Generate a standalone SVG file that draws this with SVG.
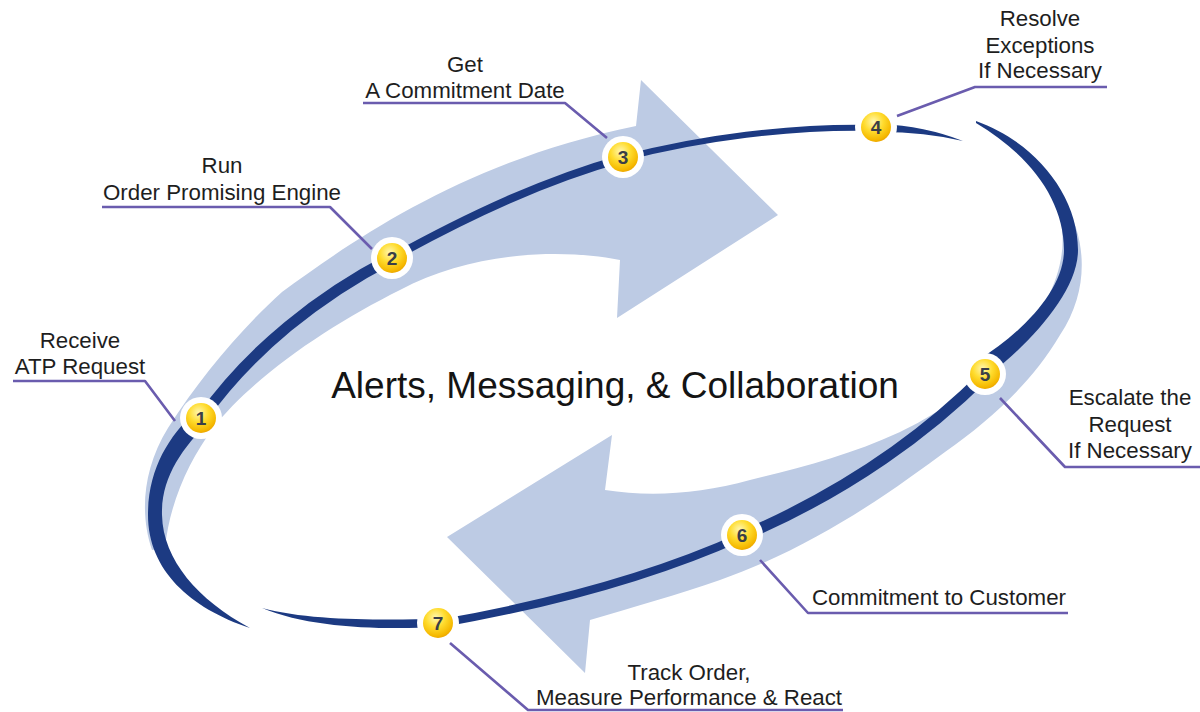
<svg xmlns="http://www.w3.org/2000/svg" width="1200" height="712" viewBox="0 0 1200 712">
<defs>
<radialGradient id="yel" cx="0.42" cy="0.32" r="0.72">
<stop offset="0" stop-color="#fff7b0"/>
<stop offset="0.45" stop-color="#ffdc2e"/>
<stop offset="0.85" stop-color="#f5b800"/>
<stop offset="1" stop-color="#e9a000"/>
</radialGradient>
<style>
.band{fill:#bdcbe4}
.dark{fill:#1c3a82}
.dl{fill:none;stroke:#1c3a82;stroke-linecap:butt}
.lead{fill:none;stroke:#6a5cae;stroke-width:2.6;stroke-linejoin:round}
.lbl{font-family:"Liberation Sans",Arial,sans-serif;font-size:22.3px;fill:#1e1e1e;text-anchor:middle}
.num{font-family:"Liberation Sans",Arial,sans-serif;font-size:19px;font-weight:bold;fill:#3a3e48;text-anchor:middle}
.ring{fill:#ffffff}
.ball{fill:url(#yel)}
</style>
</defs>
<rect width="1200" height="712" fill="#ffffff"/>

<g id="arrows">
<path class="band" d="M 152,550 C 140,515 142,470 168,428 C 200,378 240,330 282,292 C 360,235 470,160 636,126 L 641,80 L 778,215 L 617,318 L 620,260 C 560,248 470,252 400,290 C 330,325 255,375 213,428 C 190,460 170,500 165,548 Z"/>
<path class="band" d="M 1066,205 C 1086,240 1090,290 1060,335 C 1030,385 990,420 945,452 C 900,485 820,545 720,580 C 680,594 630,608 590,620 L 585,673 L 447,537 L 612,435 L 605,490 C 650,497 700,494 750,480 C 800,468 850,455 900,432 C 935,415 955,400 975,385 C 1030,340 1068,280 1062,230 Z"/>
</g>

<g id="connectors">
<path class="dark" d="M 250,628 C 190,608 148,570 148,515 C 148,470 168,437 195,412 L 209,422 C 182,448 161,478 162,515 C 163,560 198,600 250,628 Z"/>
<path class="dl" stroke-width="11" d="M 202,418 C 250,350 320,295 392,258"/>
<path class="dl" stroke-width="8" d="M 392,258 C 470,215 545,180 624,158"/>
<path class="dl" stroke-width="6" d="M 624,158 C 700,138 790,126 876,128"/>
<path class="dark" d="M 880,124 Q 925,126 963,141 Q 925,132 880,132 Z"/>
<path class="dark" d="M 976,121 C 1035,142 1078,195 1078,250 C 1078,290 1035,338 993,372 L 978,360 C 1022,333 1064,290 1064,250 C 1064,200 1030,155 976,123 Z"/>
<path class="dl" stroke-width="11" d="M 985,375 C 930,430 850,490 743,536"/>
<path class="dl" stroke-width="8" d="M 743,536 C 650,578 540,606 437,624"/>
<path class="dark" d="M 440,627 C 380,630 310,628 262,608 C 310,621 380,620 440,619 Z"/>

<polyline class="lead" points="13,381 145,381 175,421"/>
<polyline class="lead" points="102,207 330,207 372,249"/>
<polyline class="lead" points="363,103 565,103 607,138"/>
<polyline class="lead" points="897,116 975,87 1107,87"/>
<polyline class="lead" points="1000,398 1065,467 1200,467"/>
<polyline class="lead" points="760,560 808,613 1068,613"/>
<polyline class="lead" points="450,643 528,710 843,710"/>
</g>

<g id="node1"><circle class="ring" cx="201" cy="418" r="21"/><circle class="ball" cx="201" cy="418" r="15"/><text class="num" x="201" y="425">1</text>
<text class="lbl" x="80" y="348">Receive</text><text class="lbl" x="80" y="374">ATP Request</text></g>
<g id="node2"><circle class="ring" cx="392" cy="258" r="21"/><circle class="ball" cx="392" cy="258" r="15"/><text class="num" x="392" y="265">2</text>
<text class="lbl" x="222" y="173">Run</text><text class="lbl" x="222" y="200">Order Promising Engine</text></g>
<g id="node3"><circle class="ring" cx="623" cy="157" r="21"/><circle class="ball" cx="623" cy="157" r="15"/><text class="num" x="623" y="164">3</text>
<text class="lbl" x="465" y="72">Get</text><text class="lbl" x="465" y="98">A Commitment Date</text></g>
<g id="node4"><circle class="ring" cx="876" cy="127" r="21"/><circle class="ball" cx="876" cy="127" r="15"/><text class="num" x="876" y="134">4</text>
<text class="lbl" x="1040" y="26">Resolve</text><text class="lbl" x="1040" y="53">Exceptions</text><text class="lbl" x="1040" y="78">If Necessary</text></g>
<g id="node5"><circle class="ring" cx="985" cy="374" r="21"/><circle class="ball" cx="985" cy="374" r="15"/><text class="num" x="985" y="381">5</text>
<text class="lbl" x="1130" y="405">Escalate the</text><text class="lbl" x="1130" y="432">Request</text><text class="lbl" x="1130" y="458">If Necessary</text></g>
<g id="node6"><circle class="ring" cx="742" cy="535" r="21"/><circle class="ball" cx="742" cy="535" r="15"/><text class="num" x="742" y="542">6</text>
<text class="lbl" x="939" y="605">Commitment to Customer</text></g>
<g id="node7"><circle class="ring" cx="438" cy="623" r="21"/><circle class="ball" cx="438" cy="623" r="15"/><text class="num" x="438" y="630">7</text>
<text class="lbl" x="689" y="680">Track Order,</text><text class="lbl" x="689" y="705">Measure Performance &amp; React</text></g>

<g id="title"><text x="615" y="398" font-family="Liberation Sans, Arial, sans-serif" font-size="37" fill="#141414" text-anchor="middle">Alerts, Messaging, &amp; Collaboration</text></g>
</svg>
